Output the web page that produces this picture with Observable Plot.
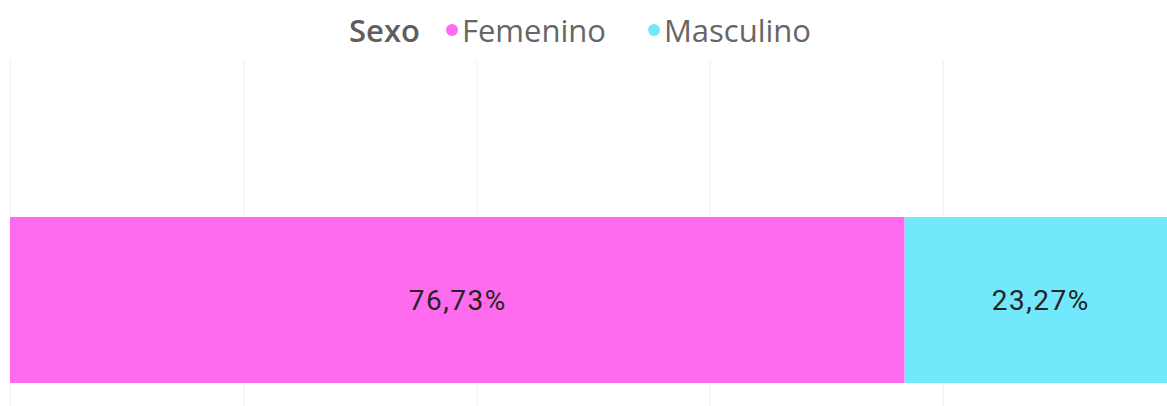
<!DOCTYPE html>
<html>
<head>
<meta charset="utf-8">
<script src="https://cdn.jsdelivr.net/npm/d3@7"></script>
<script src="https://cdn.jsdelivr.net/npm/@observablehq/plot@0.6"></script>
<style>
  html, body { margin: 0; padding: 0; background: #fff; overflow: hidden; width: 1167px; height: 406px; }
  #legend { position: absolute; left: 349px; top: 10px; height: 40px; display: flex; align-items: center;
    font-family: "Open Sans", "Segoe UI", sans-serif; font-size: 31px; color: #666; white-space: nowrap; }
  #legend .title { color: #605e5c; font-weight: 600; margin-right: 26px; }
  #legend .item { display: flex; align-items: center; margin-right: 42px; }
  #legend .dot { width: 12px; height: 12px; border-radius: 50%; margin-right: 4px; }
  #chart { position: absolute; left: 0; top: 60px; }
  #chart svg { max-width: none !important; }
</style>
</head>
<body>
<div id="legend"></div>
<div id="chart"></div>
<script>
const legendTitle = "Sexo";
const categories = ["Total"];
const sexes = ["Femenino", "Masculino"];
const shares = [76.73, 23.27];
const colors = ["#fe6bef", "#72e8fd"];
const gridTicks = [0, 20, 40, 60, 80, 100];

const data = sexes.map((s, i) => ({group: categories[0], sex: s, share: shares[i]}));
const fmt = v => v.toFixed(2).replace(".", ",") + "%";

// legend
const legend = document.getElementById("legend");
const t = document.createElement("span");
t.className = "title"; t.textContent = legendTitle;
legend.appendChild(t);
sexes.forEach((s, i) => {
  const item = document.createElement("span");
  item.className = "item";
  const dot = document.createElement("span");
  dot.className = "dot"; dot.style.background = colors[i];
  item.appendChild(dot);
  const lab = document.createElement("span");
  lab.textContent = s;
  item.appendChild(lab);
  legend.appendChild(item);
});

const chart = Plot.plot({
  width: 1186,
  height: 346,
  marginLeft: 10,
  marginRight: 10,
  marginTop: 0,
  marginBottom: 0,
  x: {domain: [0, 100], axis: null},
  y: {domain: categories, range: [157, 323], padding: 0, axis: null},
  color: {domain: sexes, range: colors},
  style: {fontFamily: "Roboto, sans-serif", background: "transparent", maxWidth: "none"},
  marks: [
    Plot.ruleX(gridTicks, {stroke: "#000", strokeOpacity: 0.06}),
    Plot.barX(data, {x: "share", y: "group", fill: "sex", z: "sex", order: sexes}),
    Plot.textX(data, Plot.stackX({x: "share", y: "group", z: "sex", order: sexes, text: d => fmt(d.share),
      fill: "#252423", fontSize: 28, fontWeight: 400, dy: 1, style: {letterSpacing: "1.5px"}}))
  ]
});
chart.querySelectorAll("text").forEach(el => el.style.letterSpacing = "1.5px");
document.getElementById("chart").appendChild(chart);
</script>
</body>
</html>
